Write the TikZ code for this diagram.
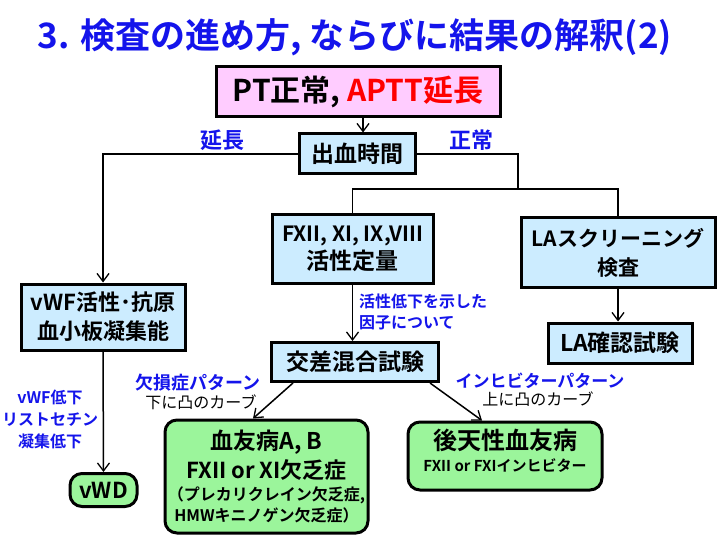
\documentclass[tikz,border=0pt]{standalone}
\usepackage{fontspec}
\setmainfont{Noto Sans CJK JP}[BoldFont={Noto Sans CJK JP Bold}]
\usetikzlibrary{arrows.meta}
\definecolor{tblue}{RGB}{20,20,235}
\definecolor{lblue}{RGB}{204,236,255}
\definecolor{lpink}{RGB}{255,204,255}
\definecolor{lgreen}{RGB}{155,245,155}
\newcommand\FSz[2]{\fontsize{#1}{#2}\selectfont}
\begin{document}
\begin{tikzpicture}[x=1pt,y=-1pt,
  box/.style={draw=black, line width=3pt, fill=lblue, inner sep=0pt, align=center, font=\bfseries},
  gbox/.style={box, fill=lgreen, rounded corners=12pt},
  txt/.style={inner sep=0pt, align=center, font=\bfseries},
  lab/.style={txt, text=tblue},
  conn/.style={line width=1.5pt},
  arr/.style={conn, -{Straight Barb[length=8pt,width=12pt,line width=1.3pt]}}]
\fill[white] (0,0) rectangle (720,540);
\useasboundingbox (0,0) rectangle (720,540);

\node[txt, text=tblue, font=\bfseries\FSz{35}{40}] (title) at (355,37) {3. 検査の進め方, ならびに結果の解釈(2)};

\node[box, fill=lpink, minimum width=284pt, minimum height=50pt, font=\bfseries\FSz{30}{36}] (pt) at (358,92) {PT正常, \textcolor{red}{APTT延長}};
\node[box, minimum width=116pt, minimum height=40pt, font=\bfseries\FSz{23}{28}] (bt) at (357,154) {出血時間};
\node[box, minimum width=161pt, minimum height=68pt, font=\bfseries\FSz{21}{28}] (fx) at (352.5,249) {FXII, XI, IX,VIII\\\FSz{23}{28}活性定量};
\node[box, minimum width=194pt, minimum height=69pt, font=\bfseries\FSz{21}{29}] (la) at (618,252.5) {LAスクリーニング\\検査};
\node[box, minimum width=144pt, minimum height=40pt, font=\bfseries\FSz{23}{28}] (lac) at (620,343) {LA確認試験};
\node[box, minimum width=164pt, minimum height=66pt, font=\bfseries\FSz{22}{29}] (vwf) at (103,317) {vWF活性･抗原\\血小板凝集能};
\node[box, minimum width=167pt, minimum height=39pt, font=\bfseries\FSz{23}{28}] (mix) at (355,362) {交差混合試験};
\node[gbox, minimum width=67pt, minimum height=33pt, font=\bfseries\FSz{22}{26}] (vwd) at (103.5,490) {vWD};
\node[gbox, minimum width=203pt, minimum height=113pt] (hemo) at (266.5,476.5) {};
\node[gbox, minimum width=194pt, minimum height=68pt] (acq) at (505,456) {};

\node[txt, font=\bfseries\FSz{23}{26}] (h1) at (266.5,442) {血友病A, B};
\node[txt, font=\bfseries\FSz{22}{26}] (h2) at (266.5,470) {FXII or XI欠乏症};
\node[txt, font=\bfseries\FSz{16}{20}] (h3) at (266.5,495) {（プレカリクレイン欠乏症,};
\node[txt, font=\bfseries\FSz{16}{20}] (h4) at (266.5,515) {HMWキニノゲン欠乏症）};
\node[txt, font=\bfseries\FSz{24}{28}] (a1) at (505,440) {後天性血友病};
\node[txt, font=\bfseries\FSz{15}{20}] (a2) at (505,466) {FXII or FXIインヒビター};

\node[lab, font=\bfseries\FSz{22}{26}] (l1) at (222,140) {延長};
\node[lab, font=\bfseries\FSz{22}{26}] (l2) at (471,140) {正常};
\node[lab, anchor=west, align=left, font=\bfseries\FSz{16}{21}] (l3) at (359,312) {活性低下を示した\\因子について};
\node[lab, font=\bfseries\FSz{16}{22}] (l4) at (50,419) {vWF低下\\リストセチン\\凝集低下};
\node[lab, font=\bfseries\FSz{18}{22}] (l5) at (198,383) {欠損症パターン};
\node[txt, font=\FSz{16}{20}] (l6) at (201,402) {下に凸のカーブ};
\node[lab, font=\bfseries\FSz{17}{20}] (l7) at (540,381) {インヒビターパターン};
\node[txt, font=\FSz{16}{20}] (l8) at (538,399) {上に凸のカーブ};

\draw[arr] ([xshift=5pt]pt.south) -- ([xshift=5pt]pt.south |- bt.north);
\draw[arr] (bt.west) -| (vwf.north);
\coordinate (j) at (518,189);
\draw[conn] (bt.east) -| (j);
\draw[conn] (fx.north) -- (fx.north |- j) -- (la.north |- j) -- (la.north);
\draw[arr] (la.south) -- (la.south |- lac.north);
\draw[arr] (vwf.south) -- (vwd.north);
\draw[arr] (fx.south) -- (fx.south |- mix.north);
\draw[arr] ([xshift=-62pt]mix.south) -- ([xshift=-13.5pt]hemo.north);
\draw[arr] ([xshift=75pt]mix.south) -- ([xshift=-23pt]acq.north);
\end{tikzpicture}
\end{document}
